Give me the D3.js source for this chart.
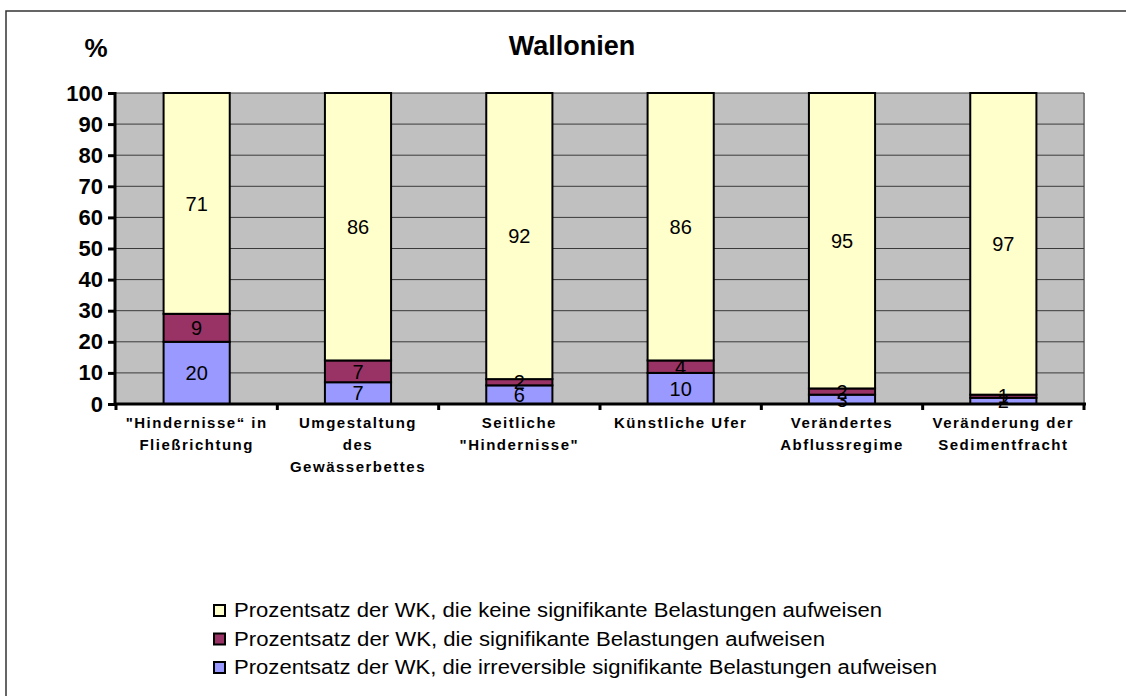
<!DOCTYPE html>
<html><head><meta charset="utf-8">
<script src="https://cdn.jsdelivr.net/npm/d3@7"></script>
<style>html,body{margin:0;padding:0;background:#fff;}svg{display:block;}</style>
</head><body>
<script>
const categories = [
  ['"Hindernisse“ in', 'Fließrichtung'],
  ['Umgestaltung', 'des', 'Gewässerbettes'],
  ['Seitliche', '"Hindernisse"'],
  ['Künstliche Ufer'],
  ['Verändertes', 'Abflussregime'],
  ['Veränderung der', 'Sedimentfracht']
];
const irreversible = [20, 7, 6, 10, 3, 2];
const significant = [9, 7, 2, 4, 2, 1];
const none = [71, 86, 92, 86, 95, 97];
const yTicks = [0, 10, 20, 30, 40, 50, 60, 70, 80, 90, 100];
const seriesNames = [
  'Prozentsatz der WK, die keine signifikante Belastungen aufweisen',
  'Prozentsatz der WK, die signifikante Belastungen aufweisen',
  'Prozentsatz der WK, die irreversible signifikante Belastungen aufweisen'
];
const colors = {irr: '#9999FF', sig: '#993366', none: '#FFFFCC'};

(function () {
const W = 1126, H = 696;
const pL = 116, pR = 1084, pT = 93, pB = 404;
const svg = d3.select('body').append('svg').attr('width', W).attr('height', H);
svg.append('rect').attr('width', W).attr('height', H).attr('fill', '#fff');

// frame
svg.append('path').attr('d', `M6,${H} L6,11 L${W},11`).attr('fill', 'none')
  .attr('stroke', '#333').attr('stroke-width', 1.5);

const idx = d3.range(categories.length);
const x = d3.scaleBand().domain(idx).range([pL, pR]).paddingInner(0.59).paddingOuter(0.295);
const y = d3.scaleLinear().domain([0, 100]).range([pB, pT]);

// plot background
svg.append('rect').attr('x', pL).attr('y', pT).attr('width', pR - pL).attr('height', pB - pT)
  .attr('fill', '#C0C0C0');
svg.append('line').attr('x1', pR).attr('x2', pR).attr('y1', pT).attr('y2', pB)
  .attr('stroke', '#808080').attr('stroke-width', 2);

// gridlines
svg.append('g').selectAll('line').data(yTicks.filter(t => t > 0)).join('line')
  .attr('x1', pL).attr('x2', pR).attr('y1', d => y(d)).attr('y2', d => y(d))
  .attr('stroke', '#3a3a3a').attr('stroke-width', 1);

// stacked data
const rows = idx.map(i => ({i, irr: irreversible[i], sig: significant[i], none: none[i]}));
const stack = d3.stack().keys(['irr', 'sig', 'none'])(rows);

const g = svg.append('g');
stack.forEach(layer => {
  g.append('g').selectAll('rect').data(layer).join('rect')
    .attr('x', d => x(d.data.i))
    .attr('width', x.bandwidth())
    .attr('y', d => y(d[1]))
    .attr('height', d => y(d[0]) - y(d[1]))
    .attr('fill', colors[layer.key])
    .attr('stroke', '#000').attr('stroke-width', 2);
});
stack.forEach(layer => {
  g.append('g').selectAll('text').data(layer).join('text')
    .attr('x', d => x(d.data.i) + x.bandwidth() / 2)
    .attr('y', d => y((d[0] + d[1]) / 2))
    .attr('dy', '0.36em')
    .attr('text-anchor', 'middle')
    .attr('font-family', 'Liberation Sans, Arial, sans-serif')
    .attr('font-size', 20)
    .attr('fill', '#000')
    .text(d => d[1] - d[0]);
});

// y axis
const yAxis = svg.append('g').attr('transform', `translate(${pL - 1},0)`)
  .call(d3.axisLeft(y).tickValues(yTicks).tickSize(7).tickPadding(5));
yAxis.select('.domain').attr('stroke', '#000').attr('stroke-width', 3).attr('d', `M0,${pT - 1}V${pB + 1}`);
yAxis.selectAll('.tick line').attr('stroke', '#000').attr('stroke-width', 3);
yAxis.selectAll('.tick text').attr('font-family', 'Liberation Sans, Arial, sans-serif')
  .attr('font-size', 22).attr('font-weight', 'bold').attr('fill', '#000');

// x axis line and ticks at category boundaries
const step = x.step();
svg.append('line').attr('x1', pL - 2).attr('x2', pR + 2).attr('y1', pB).attr('y2', pB)
  .attr('stroke', '#000').attr('stroke-width', 3);
svg.append('g').selectAll('line').data(d3.range(categories.length + 1)).join('line')
  .attr('x1', d => pL + d * step).attr('x2', d => pL + d * step)
  .attr('y1', pB).attr('y2', pB + 6)
  .attr('stroke', '#000').attr('stroke-width', 3);

// x labels
const xl = svg.append('g');
categories.forEach((lines, i) => {
  const t = xl.append('text')
    .attr('x', x(i) + x.bandwidth() / 2)
    .attr('y', 428)
    .attr('text-anchor', 'middle')
    .attr('font-family', 'Liberation Sans, Arial, sans-serif')
    .attr('font-size', 15).attr('font-weight', 'bold')
    .attr('letter-spacing', '1.5px')
    .attr('fill', '#000');
  lines.forEach((ln, k) => {
    t.append('tspan').attr('x', x(i) + x.bandwidth() / 2).attr('y', 428 + k * 22).text(ln);
  });
});

// title
svg.append('text').attr('x', 572).attr('y', 55).attr('text-anchor', 'middle')
  .attr('font-family', 'Liberation Sans, Arial, sans-serif').attr('font-size', 27).attr('font-weight', 'bold')
  .text('Wallonien');
svg.append('text').attr('x', 96).attr('y', 57).attr('text-anchor', 'middle')
  .attr('font-family', 'Liberation Sans, Arial, sans-serif').attr('font-size', 26).attr('font-weight', 'bold')
  .text('%');

// legend
const legendColors = [colors.none, colors.sig, colors.irr];
const legendWidths = [648, 591, 703];
const lg = svg.append('g');
seriesNames.forEach((name, k) => {
  const cy = 610 + k * 28.5;
  lg.append('rect').attr('x', 214).attr('y', cy - 5).attr('width', 11).attr('height', 11)
    .attr('fill', legendColors[k]).attr('stroke', '#000').attr('stroke-width', 2);
  lg.append('text').attr('x', 234).attr('y', cy).attr('dy', '0.36em')
    .attr('font-family', 'Liberation Sans, Arial, sans-serif').attr('font-size', 20)
    .attr('textLength', legendWidths[k]).attr('lengthAdjust', 'spacingAndGlyphs')
    .text(name);
});
})();
</script>
</body></html>
